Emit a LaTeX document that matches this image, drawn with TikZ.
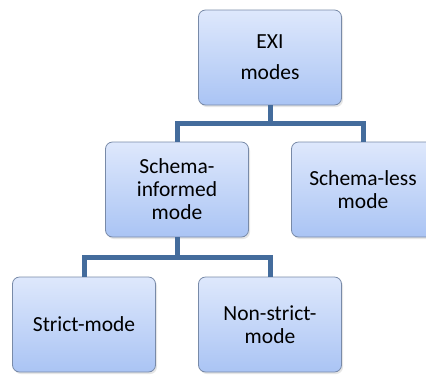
\documentclass[tikz,border=0pt]{standalone}
\usepackage{fontspec}
\setmainfont{Carlito}
\usetikzlibrary{shadows}

\definecolor{boxline}{RGB}{120,138,168}
\definecolor{boxtop}{RGB}{222,232,252}
\definecolor{boxbot}{RGB}{170,196,244}
\definecolor{linkcol}{RGB}{68,108,156}

\begin{document}
\begin{tikzpicture}[x=1pt, y=-1pt,
    every node/.style={rectangle, rounded corners=7pt, draw=boxline, line width=0.8pt,
        top color=boxtop, bottom color=boxbot,
        minimum width=143pt, minimum height=95pt, inner sep=2pt,
        align=center, font=\fontsize{21.5}{23}\selectfont,
        drop shadow={opacity=0.2, shadow xshift=1.5pt, shadow yshift=-2pt}},
    lien/.style={draw=linkcol, line width=5pt}]
    \useasboundingbox (0,0) rectangle (426,376);
    % Les noeuds
    \node (exi) at (270, 57.5) {EXI\\[8pt]modes};
    \node (si) at (177, 189.5) {Schema-\\informed\\mode};
    \node (sl) at (363, 189.5) {Schema-less\\mode};
    \node (st) at (84, 324.5) {Strict-mode};
    \node (ns) at (270, 324.5) {Non-strict-\\mode};

    % Les liens
    \draw[lien] (exi.south) -- ++(0,18) -| (si.north);
    \draw[lien] (exi.south) -- ++(0,18) -| (sl.north);
    \draw[lien] (si.south) -- ++(0,20) -| (st.north);
    \draw[lien] (si.south) -- ++(0,20) -| (ns.north);
\end{tikzpicture}
\end{document}
